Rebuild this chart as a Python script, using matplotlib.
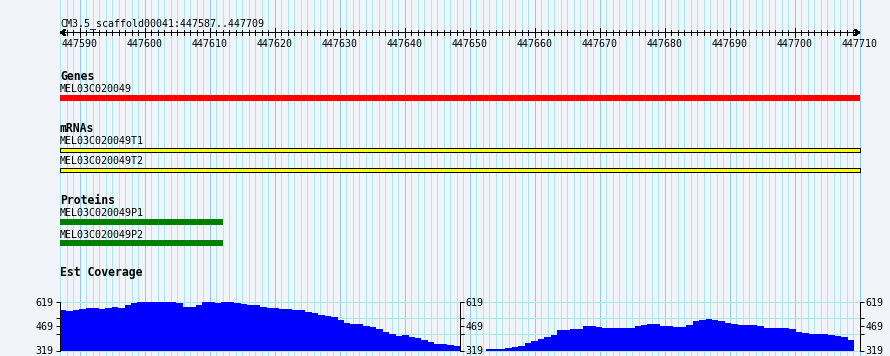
import numpy as np
import matplotlib
matplotlib.use('Agg')
import matplotlib.pyplot as plt

plt.rcParams['lines.antialiased'] = False
plt.rcParams['patch.antialiased'] = False

# ---------------- data ----------------
title = "CM3.5_scaffold00041:447587..447709"
region_start = 447587
region_end = 447710          # exclusive end (447709 inclusive)
ruler_labels = [447590, 447600, 447610, 447620, 447630, 447640, 447650,
                447660, 447670, 447680, 447690, 447700, 447710]

gene_name = "MEL03C020049"
gene_span = (447587, 447710)
mrna_names = ["MEL03C020049T1", "MEL03C020049T2"]
mrna_spans = [(447587, 447710), (447587, 447710)]
protein_names = ["MEL03C020049P1", "MEL03C020049P2"]
protein_spans = [(447587, 447612), (447587, 447612)]

coverage_min, coverage_max = 319, 619
coverage_ticks = [319, 469, 619]
coverage_minor = [419, 519]
coverage = [566, 560, 566, 572, 582, 582, 572, 582, 588, 582,
            595, 607, 613, 613, 619, 613, 619, 619, 607, 588,
            588, 595, 613, 613, 607, 613, 613, 607, 601, 595,
            595, 588, 582, 582, 572, 572, 564, 564, 552, 546,
            539, 531, 527, 503, 490, 484, 484, 466, 460, 448,
            433, 421, 405, 411, 403, 393, 381, 369, 356, 356,
            350, 346, 319, 319, 319, 319, 331, 331, 329, 335,
            341, 348, 362, 378, 388, 399, 411, 444, 444, 450,
            450, 466, 466, 460, 455, 455, 455, 455, 455, 467,
            474, 479, 479, 472, 467, 460, 460, 473, 497, 505,
            510, 505, 497, 490, 484, 478, 478, 478, 466, 456,
            456, 456, 456, 448, 435, 429, 423, 417, 417, 411,
            405, 399, 386]

# ---------------- style ----------------
W, H = 890, 356
BG = '#F1F5FA'
GRID_MINOR = '#A8E9EF'
GRID_MAJOR = '#8ECBEC'
MONO = 'DejaVu Sans Mono'
FS = 7.2
FSB = 8.3
PX = 0.72  # 1 pixel in points

fig = plt.figure(figsize=(W / 100, H / 100), dpi=100, facecolor=BG)

# background axes: genomic x, pixel y
ax = fig.add_axes([0, 0, 1, 1])
ax.set_facecolor(BG)
s = 800.0 / (region_end - region_start)
ax.set_xlim(region_start - 60 / s, region_start + (W - 60) / s)
ax.set_ylim(H, 0)
ax.axis('off')

# vertical grid, one line per bp
pos = np.arange(region_start, region_end + 1)
minor = pos[pos % 10 != 0]
major = pos[pos % 10 == 0]
ax.vlines(minor, 0, H, color=GRID_MINOR, lw=PX, zorder=0)
ax.vlines(major, 0, H, color=GRID_MAJOR, lw=PX, zorder=0)

# title and ruler
ax.text(region_start, 26, title, family=MONO, fontsize=FS, ha='left', va='baseline')
ruler_y = 32.5
ax.annotate('', xy=(region_start, ruler_y), xytext=(region_end, ruler_y),
            arrowprops=dict(arrowstyle='<->,head_length=0.3,head_width=0.2',
                            color='black', lw=PX, shrinkA=0, shrinkB=0), zorder=3)
rt = pos[(pos > region_start) & (pos < region_end)]
ax.vlines(rt[rt % 10 != 0], ruler_y - 2.5, ruler_y + 2.5, color='black', lw=PX, zorder=3)
ax.vlines(rt[rt % 10 == 0], ruler_y - 4.5, ruler_y + 4.5, color='black', lw=PX, zorder=3)
for t in ruler_labels:
    ax.text(t, 47, str(t), family=MONO, fontsize=FS, ha='center', va='baseline')

# track labels
def bold(y, txt):
    ax.text(region_start, y, txt, family=MONO, fontsize=FSB, fontweight='bold',
            ha='left', va='baseline')

def lab(y, txt):
    ax.text(region_start, y, txt, family=MONO, fontsize=FS, ha='left', va='baseline')

bold(80.5, "Genes")
lab(92, gene_name)
ax.broken_barh([(gene_span[0], gene_span[1] - gene_span[0])], (95, 6),
               facecolor='#FF0000', edgecolor='none', zorder=2)

bold(132, "mRNAs")
for name, sp, ly, by in zip(mrna_names, mrna_spans, [144, 164], [147.5, 167.5]):
    lab(ly, name)
    ax.broken_barh([(sp[0], sp[1] - sp[0])], (by, 4.2),
                   facecolor='#FFFF00', edgecolor='black', lw=PX, zorder=2)

bold(204.5, "Proteins")
for name, sp, ly, by in zip(protein_names, protein_spans, [216, 237.5], [219, 240]):
    lab(ly, name)
    ax.broken_barh([(sp[0], sp[1] - sp[0])], (by, 6),
                   facecolor='#008000', edgecolor='none', zorder=2)

bold(276, "Est Coverage")

# coverage panel
top_px, bot_px = 301.5, 350.5
cax = fig.add_axes([60 / W, (H - bot_px) / H, 800 / W, (bot_px - top_px) / H])
cax.set_facecolor('none')
nb = len(coverage)
bin_w = 794.0 / nb
cax.set_xlim(0, 800.0 / bin_w)
cax.set_ylim(coverage_min, coverage_max)
cax.hlines([coverage_min] + coverage_minor + [coverage_max], 0, 800.0 / bin_w,
           color=GRID_MINOR, lw=PX, zorder=0, clip_on=False)
vals = np.array(coverage, dtype=float)
cax.bar(np.arange(nb), vals - coverage_min, bottom=coverage_min, width=1.0,
        align='edge', color='#0000FF', lw=0, antialiased=False, zorder=2)
for sp in ['top', 'right', 'bottom']:
    cax.spines[sp].set_visible(False)
cax.spines['left'].set_linewidth(PX)
cax.set_xticks([])
cax.set_yticks(coverage_ticks)
cax.set_yticks(coverage_minor, minor=True)
cax.tick_params(axis='y', which='both', length=3, width=PX, pad=1.5,
                labelsize=FS, direction='out')
cax.set_yticklabels([str(v) for v in coverage_ticks], family=MONO)

for loc in [0.5, 1.0]:
    sec = cax.secondary_yaxis(loc)
    sec.set_yticks(coverage_ticks)
    sec.set_yticks(coverage_minor, minor=True)
    sec.set_yticklabels([str(v) for v in coverage_ticks], family=MONO)
    sec.tick_params(axis='y', which='both', length=3, width=PX, pad=1.0,
                    labelsize=FS, direction='out')
    for sp in sec.spines.values():
        sp.set_linewidth(PX)

fig.savefig('out.png', dpi=100, facecolor=BG)
